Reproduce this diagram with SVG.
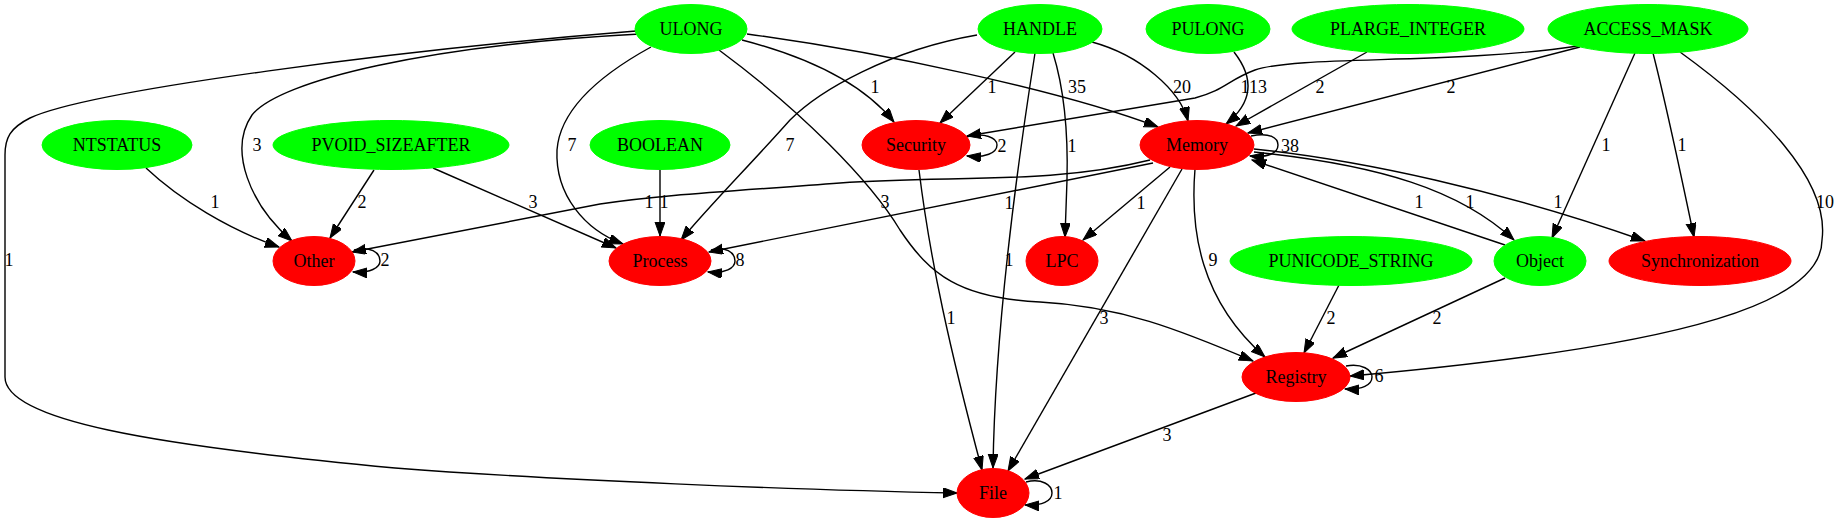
<svg xmlns="http://www.w3.org/2000/svg" width="1844" height="523" viewBox="0 0 1844 523">
<style>
.g ellipse{fill:#00ff00;stroke:#00ff00}
.r ellipse{fill:#ff0000;stroke:#ff0000}
text{font-family:"Liberation Serif","Times New Roman",serif;font-size:18px;text-anchor:middle;fill:#000}
#edges path{fill:none;stroke:#000;stroke-width:1.4;marker-end:url(#ah)}
</style>
<defs>
<marker id="ah" markerUnits="userSpaceOnUse" markerWidth="15" markerHeight="11" refX="14" refY="5" orient="auto">
<path d="M0,0 L14,5 L0,10 z" fill="#000" stroke="#000" stroke-width="1"/>
</marker>
</defs>
<rect width="1844" height="523" fill="#fff"/>
<g id="edges">
<path d="M636,31 C400,50 90,90 30,118 C10,128 5,138 5,155 L5,377 C5,420 150,445 395,468 C550,480 800,490 957,493"/>
<path d="M640,34 C430,45 280,80 252,115 C228,150 250,205 292,241"/>
<path d="M651,47 C600,75 560,110 557,150 C555,195 585,230 623,244"/>
<path d="M742,40 C800,55 860,80 894,122"/>
<path d="M747,34 C880,52 1060,90 1158,127"/>
<path d="M1015,52 L940,123"/>
<path d="M977,35 C890,50 820,90 790,120 C750,165 710,205 681,240"/>
<path d="M1053,53 C1066,95 1068,140 1067,180 L1065,237"/>
<path d="M1035,53 C1015,180 995,330 993,468"/>
<path d="M1092,42 C1140,55 1180,90 1188,121"/>
<path d="M1234,52 C1252,75 1256,100 1226,124"/>
<path d="M1367,52 L1236,126"/>
<path d="M1580,47 L1248,133"/>
<path d="M1578,46 C1450,65 1300,55 1255,70 C1228,80 1225,90 1195,98 L967,136"/>
<path d="M1635,53 L1552,238"/>
<path d="M1653,53 C1665,100 1680,170 1694,237"/>
<path d="M1680,52 C1760,110 1830,180 1822,240 C1822,300 1700,345 1350,376"/>
<path d="M146,168 C180,200 230,230 279,247"/>
<path d="M374,170 L330,238"/>
<path d="M433,168 L616,248"/>
<path d="M660,170 L660,236"/>
<path d="M1150,160 C1050,185 950,175 840,183 C720,192 660,195 600,204 L352,252"/>
<path d="M1153,163 L709,252"/>
<path d="M1170,167 L1083,240"/>
<path d="M1182,169 L1008,471"/>
<path d="M1195,169 C1190,230 1200,300 1265,357"/>
<path d="M719,50 C800,110 870,180 900,230 C930,275 960,298 1040,302 C1120,306 1180,330 1253,361"/>
<path d="M1505,245 L1252,160"/>
<path d="M1254,152 C1380,165 1460,190 1514,240"/>
<path d="M1254,149 C1360,160 1500,190 1645,241"/>
<path d="M919,170 C930,260 950,350 982,470"/>
<path d="M1256,393 L1025,479"/>
<path d="M1339,285 L1304,353"/>
<path d="M1505,278 L1333,358"/>
<path d="M966,137 C985,132 997,138 997,145 C997,153 985,158 967,156"/>
<path d="M1251,136 C1270,132 1278,138 1278,145 C1278,153 1268,158 1250,156"/>
<path d="M354,250 C370,246 380,252 380,261 C380,268 370,273 353,272"/>
<path d="M711,250 C725,246 735,252 735,261 C735,268 725,274 708,272"/>
<path d="M1346,366 C1362,363 1372,370 1372,377 C1372,385 1362,390 1345,389"/>
<path d="M1026,482 C1042,478 1052,485 1052,493 C1052,501 1042,506 1025,505"/>
<g id="edge-labels">
<text x="9" y="266">1</text>
<text x="257" y="151">3</text>
<text x="572" y="151">7</text>
<text x="875" y="93">1</text>
<text x="1077" y="93">35</text>
<text x="992" y="93">1</text>
<text x="1182" y="93">20</text>
<text x="790" y="151">7</text>
<text x="1072" y="152">1</text>
<text x="1245" y="93">1</text>
<text x="1258" y="93">13</text>
<text x="1320" y="93">2</text>
<text x="1451" y="93">2</text>
<text x="1606" y="151">1</text>
<text x="1682" y="151">1</text>
<text x="1825" y="208">10</text>
<text x="215" y="208">1</text>
<text x="362" y="208">2</text>
<text x="533" y="208">3</text>
<text x="649" y="208">1</text>
<text x="664" y="208">1</text>
<text x="885" y="208">3</text>
<text x="1009" y="209">1</text>
<text x="1141" y="209">1</text>
<text x="1419" y="208">1</text>
<text x="1470" y="208">1</text>
<text x="1558" y="208">1</text>
<text x="1009" y="266">1</text>
<text x="1213" y="266">9</text>
<text x="951" y="324">1</text>
<text x="1104" y="324">3</text>
<text x="1331" y="324">2</text>
<text x="1437" y="324">2</text>
<text x="1167" y="441">3</text>
<text x="1002" y="152">2</text>
<text x="1290" y="152">38</text>
<text x="385" y="266">2</text>
<text x="740" y="266">8</text>
<text x="1379" y="382">6</text>
<text x="1058" y="499">1</text>
</g>
</g>
<g id="ULONG" class="g"><ellipse cx="691" cy="29" rx="56" ry="24.5"/><text x="691" y="35">ULONG</text></g>
<g id="HANDLE" class="g"><ellipse cx="1040" cy="29" rx="62" ry="24.5"/><text x="1040" y="35">HANDLE</text></g>
<g id="PULONG" class="g"><ellipse cx="1208" cy="29" rx="62" ry="24.5"/><text x="1208" y="35">PULONG</text></g>
<g id="PLARGE_INTEGER" class="g"><ellipse cx="1408" cy="29" rx="116" ry="24.5"/><text x="1408" y="35">PLARGE_INTEGER</text></g>
<g id="ACCESS_MASK" class="g"><ellipse cx="1648" cy="29" rx="100" ry="24.5"/><text x="1648" y="35">ACCESS_MASK</text></g>
<g id="NTSTATUS" class="g"><ellipse cx="117" cy="145" rx="75" ry="24.5"/><text x="117" y="151">NTSTATUS</text></g>
<g id="PVOID_SIZEAFTER" class="g"><ellipse cx="391" cy="145" rx="118" ry="24.5"/><text x="391" y="151">PVOID_SIZEAFTER</text></g>
<g id="BOOLEAN" class="g"><ellipse cx="660" cy="145" rx="70" ry="24.5"/><text x="660" y="151">BOOLEAN</text></g>
<g id="Security" class="r"><ellipse cx="916" cy="145" rx="54" ry="24.5"/><text x="916" y="151">Security</text></g>
<g id="Memory" class="r"><ellipse cx="1197" cy="145" rx="57" ry="24.5"/><text x="1197" y="151">Memory</text></g>
<g id="Other" class="r"><ellipse cx="314" cy="261" rx="41" ry="24.5"/><text x="314" y="267">Other</text></g>
<g id="Process" class="r"><ellipse cx="660" cy="261" rx="51" ry="24.5"/><text x="660" y="267">Process</text></g>
<g id="LPC" class="r"><ellipse cx="1062" cy="261" rx="36" ry="24.5"/><text x="1062" y="267">LPC</text></g>
<g id="PUNICODE_STRING" class="g"><ellipse cx="1351" cy="261" rx="121" ry="24.5"/><text x="1351" y="267">PUNICODE_STRING</text></g>
<g id="Object" class="g"><ellipse cx="1540" cy="261" rx="46" ry="24.5"/><text x="1540" y="267">Object</text></g>
<g id="Synchronization" class="r"><ellipse cx="1700" cy="261" rx="91" ry="24.5"/><text x="1700" y="267">Synchronization</text></g>
<g id="Registry" class="r"><ellipse cx="1296" cy="377" rx="54" ry="24.5"/><text x="1296" y="383">Registry</text></g>
<g id="File" class="r"><ellipse cx="993" cy="493" rx="36" ry="24.5"/><text x="993" y="499">File</text></g>
</svg>
